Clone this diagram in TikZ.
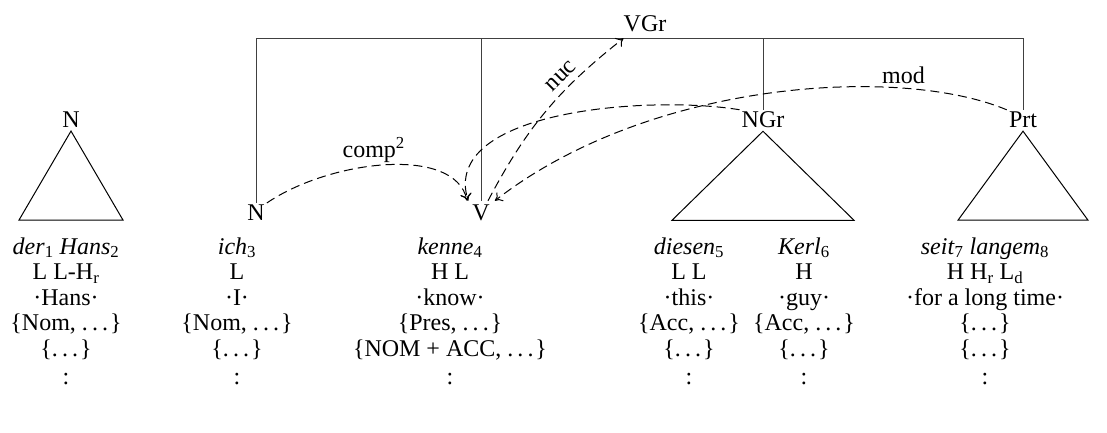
\documentclass[tikz,border=0pt]{standalone}
\usepackage{fontspec}
\setmainfont{Liberation Serif}
\usetikzlibrary{arrows.meta,calc}
\newcommand{\bigtext}{\fontsize{24}{25.5}\selectfont}
% spaced ellipsis, as in classic LaTeX typesetting
\newcommand{\sdots}{.\kern.17em.\kern.17em.\kern.08em}
\begin{document}
\begin{tikzpicture}[x=1pt,y=-1pt,
  cat/.style={font=\bigtext, inner xsep=2pt, inner ysep=2pt},
  tree/.style={line width=1pt, draw=black!75},
  tri/.style={line width=1pt, line join=miter},
  dep/.style={line width=1pt, dash pattern=on 9pt off 5pt, -{To[length=7pt,width=11pt]}},
  deplabel/.style={font=\bigtext, inner sep=1pt},
  col/.style={font=\bigtext, align=center, anchor=north, inner sep=0pt}]
\useasboundingbox (0,0) rectangle (1107,432);

% category labels
\node[cat] (Nl)  at (71,120)  {N};
\node[cat] (Ni)  at (256,213) {N};
\node[cat, inner xsep=5pt, inner ysep=4pt] (V) at (481,213) {V};
\node[cat, inner xsep=0pt, inner ysep=6pt] (VGr) at (645,24) {VGr};
\node[cat] (NGr) at (763,120) {NGr};
\node[cat] (Prt) at (1023,120) {Prt};

% tree skeleton of the verb group
\coordinate (tl) at (Ni.north |- 0,38);
\coordinate (tr) at (Prt.north |- 0,38);
\draw[tree] (Ni.north) -- (tl) -- (tr) -- (Prt.north);
\draw[tree] (V.north |- tl) -- (V.north);
\draw[tree] (NGr.north |- tl) -- (NGr.north);

% triangles
\draw[tri] ($(Nl.south)+(0,1)$) -- ++(-52,89) -- ++(104,0) -- cycle;
\draw[tri] ($(NGr.south)+(0,1)$) -- ++(-91,89) -- ++(182,0) -- cycle;
\draw[tri] ($(Prt.south)+(0,1)$) -- ++(-65,89) -- ++(130,0) -- cycle;

% dependencies
\draw[dep] (Ni.north east) .. controls (330,160) and (455,145) .. (V.north west)
  node[deplabel, pos=0.45, above=2pt] {comp\textsuperscript{2}};
\draw[dep] ([xshift=7pt]V.north) to[bend left=12]
  node[deplabel, pos=0.68, sloped, above=5pt] {nuc} (VGr.south west);
\draw[dep] (Prt.north west) .. controls (900,65) and (650,80) .. (V.north east)
  node[deplabel, pos=0.25, above=3pt] {mod};
\draw[dep] (NGr.north west) .. controls (650,95) and (440,110) .. ([xshift=1pt]V.north west);

% word columns
\node[col] (c1) at (66,236) {\strut\textit{der}\textsubscript{1} \textit{Hans}\textsubscript{2}\\ L L-H\textsubscript{r}\\ ·Hans·\\ \{Nom, \sdots\}\\ \{\sdots\}\\[3pt] :};
\node[col] (c2) at (237,236) {\strut\textit{ich}\textsubscript{3}\\ L\\ ·I·\\ \{Nom, \sdots\}\\ \{\sdots\}\\[3pt] :};
\node[col] (c3) at (450,236) {\strut\textit{kenne}\textsubscript{4}\\ H L\\ ·know·\\ \{Pres, \sdots\}\\ \{NOM + ACC, \sdots\}\\[3pt] :};
\node[col] (c4) at (689,236) {\strut\textit{diesen}\textsubscript{5}\\ L L\\ ·this·\\ \{Acc, \sdots\}\\ \{\sdots\}\\[3pt] :};
\node[col] (c5) at (804,236) {\strut\textit{Kerl}\textsubscript{6}\\ H\\ ·guy·\\ \{Acc, \sdots\}\\ \{\sdots\}\\[3pt] :};
\node[col] (c6) at (985,236) {\strut\textit{seit}\textsubscript{7} \textit{langem}\textsubscript{8}\\ H H\textsubscript{r} L\textsubscript{d}\\ ·for a long time·\\ \{\sdots\}\\ \{\sdots\}\\[3pt] :};
\end{tikzpicture}
\end{document}
